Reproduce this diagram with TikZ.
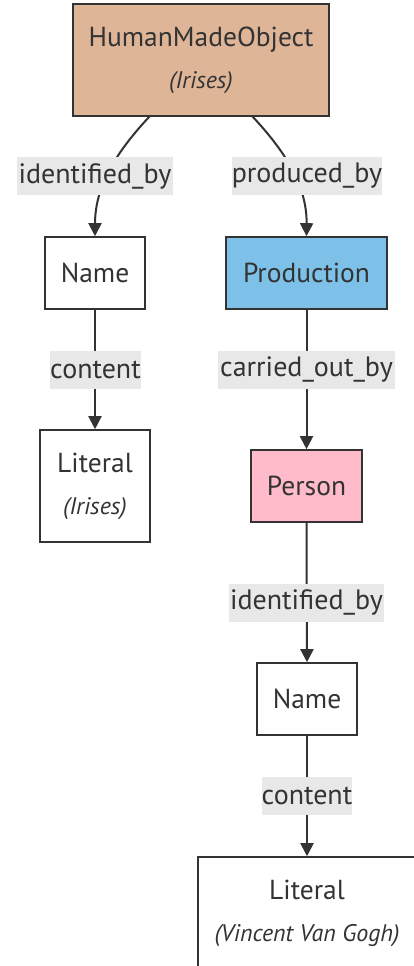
\documentclass[tikz,border=0pt]{standalone}
\usepackage{fontspec}
\setmainfont{PT Sans}
\usetikzlibrary{arrows.meta}
\definecolor{ink}{HTML}{333333}
\definecolor{hmo}{HTML}{DEB597}
\definecolor{prod}{HTML}{7DC1E9}
\definecolor{pers}{HTML}{FFBBC9}
\definecolor{lblbg}{HTML}{E8E8E8}
\newcommand{\subtitle}[1]{{\fontsize{24}{27}\selectfont\itshape #1}}
\tikzset{
  box/.style={draw=ink, line width=1.6pt, fill=white, text=ink, inner sep=0pt,
    font=\fontsize{27.5}{30}\selectfont, align=center},
  lbl/.style={fill=lblbg, text=ink, inner sep=0pt, minimum height=38pt,
    font=\fontsize{28}{30}\selectfont},
  edge/.style={draw=ink, line width=2pt, -{Triangle[length=13pt,width=13pt]}},
}
\begin{document}
\begin{tikzpicture}[x=1pt,y=-1pt]
\useasboundingbox (0,0) rectangle (414,966);
\clip (0,0) rectangle (414,966);
% class nodes
\node[box, fill=hmo, minimum width=256pt, minimum height=112pt] (hmo) at (201,60)
  {HumanMadeObject\\[12pt]\subtitle{(Irises)}};
\node[box, minimum width=100pt, minimum height=72pt] (name1) at (95,273) {Name};
\node[box, fill=prod, minimum width=161pt, minimum height=72pt] (prod) at (306.5,273) {Production};
\node[box, minimum width=110pt, minimum height=112pt] (lit1) at (95,486)
  {Literal\\[12pt]\subtitle{(Irises)}};
\node[box, fill=pers, minimum width=111pt, minimum height=72pt] (pers) at (306.5,486) {Person};
\node[box, minimum width=100pt, minimum height=72pt] (name2) at (307,699) {Name};
\node[box, minimum width=218pt, minimum height=112pt] (lit2) at (307,913)
  {Literal\\[12pt]\subtitle{(Vincent Van Gogh)}};
% connectors
\coordinate (hmoL) at (150,116);
\coordinate (hmoR) at (252,116);
\draw[edge] (hmoL) .. controls (118,150) and (95,185) .. (name1.north);
\draw[edge] (hmoR) .. controls (284,150) and (307,185) .. (prod.north);
\draw[edge] (name1.south) -- (lit1.north);
\draw[edge] (prod.south) -- (pers.north);
\draw[edge] (pers.south) -- (name2.north);
\draw[edge] (name2.south) -- (lit2.north);
% connector labels
\node[lbl, minimum width=156pt] (l1) at (95,176) {identified\_by};
\node[lbl, minimum width=150pt] (l2) at (307,176) {produced\_by};
\node[lbl, minimum width=91pt] (l3) at (95.5,369.5) {content};
\node[lbl, minimum width=177pt] (l4) at (306.5,369.5) {carried\_out\_by};
\node[lbl, minimum width=155pt] (l5) at (306.5,602.5) {identified\_by};
\node[lbl, minimum width=90pt] (l6) at (307,796) {content};
\end{tikzpicture}
\end{document}
